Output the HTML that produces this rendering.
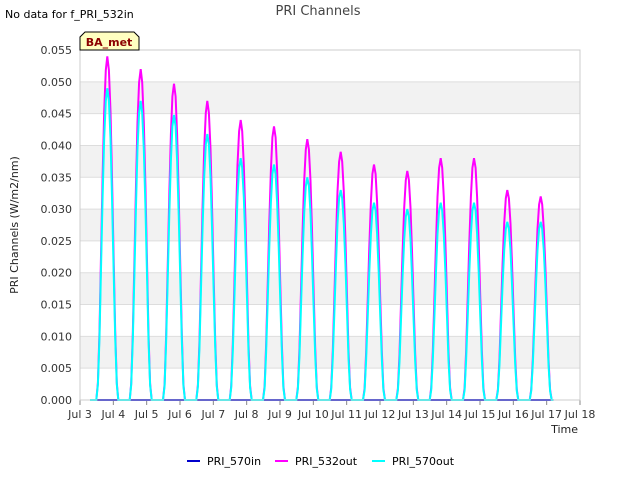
<!DOCTYPE html>
<html><head><meta charset="utf-8"><style>
body{margin:0;background:#fff;font-family:"Liberation Sans","DejaVu Sans",sans-serif;}
svg text{font-family:"DejaVu Sans","Liberation Sans",sans-serif;}
</style></head><body>
<svg width="640" height="480" viewBox="0 0 640 480" xmlns="http://www.w3.org/2000/svg">
<rect width="640" height="480" fill="#fff"/>
<g id="bands"></g>
<g id="grid"></g>
<g id="ticks"></g>
<g id="series"></g>
<rect x="80" y="50" width="500" height="350" fill="none" stroke="#ccc"/>
<text x="5" y="18" font-size="11" fill="#000">No data for f_PRI_532in</text>
<text x="318" y="15" font-size="13" fill="#444" text-anchor="middle">PRI Channels</text>
<g>
<path d="M80,50 L80,37 L85,32 L134,32 L139,37 L139,50 Z" fill="#ffffc0" stroke="#000"/>
<text x="109" y="46" font-size="11" font-weight="bold" fill="#8b0000" text-anchor="middle">BA_met</text>
</g>
<text x="18" y="225" font-size="11" fill="#222" text-anchor="middle" transform="rotate(-90 18 225)">PRI Channels (W/m2/nm)</text>
<text x="578" y="433" font-size="11" fill="#222" text-anchor="end">Time</text>
<g>
<g><line x1="187" y1="461" x2="200" y2="461" stroke="#0000cc" stroke-width="2"/><text x="207" y="465" font-size="11">PRI_570in</text></g>
<g><line x1="275" y1="461" x2="288" y2="461" stroke="#ff00ff" stroke-width="2"/><text x="295" y="465" font-size="11">PRI_532out</text></g>
<g><line x1="372" y1="461" x2="385" y2="461" stroke="#00ffff" stroke-width="2"/><text x="392" y="465" font-size="11">PRI_570out</text></g>
</g>
</svg>
<script>
const yTicks=[0,0.005,0.01,0.015,0.02,0.025,0.03,0.035,0.04,0.045,0.05,0.055];
const xTickLabels=["Jul 3","Jul 4","Jul 5","Jul 6","Jul 7","Jul 8","Jul 9","Jul 10","Jul 11","Jul 12","Jul 13","Jul 14","Jul 15","Jul 16","Jul 17","Jul 18"];
const peakDays=[4,5,6,7,8,9,10,11,12,13,14,15,16,17];
const peaks532=[0.054,0.052,0.0497,0.047,0.044,0.043,0.041,0.039,0.037,0.036,0.038,0.038,0.033,0.032];
const peaks570=[0.049,0.047,0.0448,0.0418,0.038,0.037,0.035,0.033,0.031,0.030,0.031,0.031,0.028,0.028];
const profile=[0,0.05,0.2,0.42,0.65,0.84,0.96,1,0.96,0.84,0.65,0.42,0.2,0.05,0];
const NS="http://www.w3.org/2000/svg";
const x=d=>80+(d-3)*500/15;
const y=v=>400-v*350/0.055;
function mk(tag,a,parent){const e=document.createElementNS(NS,tag);for(const k in a)e.setAttribute(k,a[k]);document.getElementById(parent).appendChild(e);return e;}
for(let i=0;i<yTicks.length-1;i++){
 if(i%2===1){const b=mk('rect',{x:80,y:y(yTicks[i+1]),width:500,height:y(yTicks[i])-y(yTicks[i+1]),fill:'#f2f2f2'},'bands');
 
 }
}
yTicks.forEach(t=>{
 const l=mk('line',{x1:80,x2:580,y1:y(t),y2:y(t),stroke:'#ddd'},'grid');
 
 
 const tx=mk('text',{x:72,y:y(t)+4,'font-size':11,fill:'#333','text-anchor':'end'},'ticks');
 tx.textContent=t.toFixed(3);
 
 
});
xTickLabels.forEach((s,i)=>{
 const d=3+i;
 mk('line',{x1:x(d),x2:x(d),y1:400,y2:405,stroke:'#888'},'ticks');
 const tx=mk('text',{x:x(d),y:418,'font-size':11,fill:'#333','text-anchor':'middle'},'ticks');
 tx.textContent=s;
 
 
});
function seriesPath(pk){
 let p='M'+x(3.3)+','+y(0);
 peakDays.forEach((d,i)=>{
  const c=d-0.18,w=0.66;
  profile.forEach((f,j)=>{const t=c-w/2+j*w/(profile.length-1);p+=' L'+x(t).toFixed(1)+','+y(pk[i]*f).toFixed(1);});
 });
 p+=' L'+x(17.2)+','+y(0);
 return p;
}
const s1=mk('line',{x1:x(3.3),x2:x(17.2),y1:y(0),y2:y(0),stroke:'#0000cc','stroke-width':2},'series');


const s2=mk('path',{d:seriesPath(peaks532),fill:'none',stroke:'#ff00ff','stroke-width':2},'series');


const s3=mk('path',{d:seriesPath(peaks570),fill:'none',stroke:'#00ffff','stroke-width':2},'series');


</script>
</body></html>
